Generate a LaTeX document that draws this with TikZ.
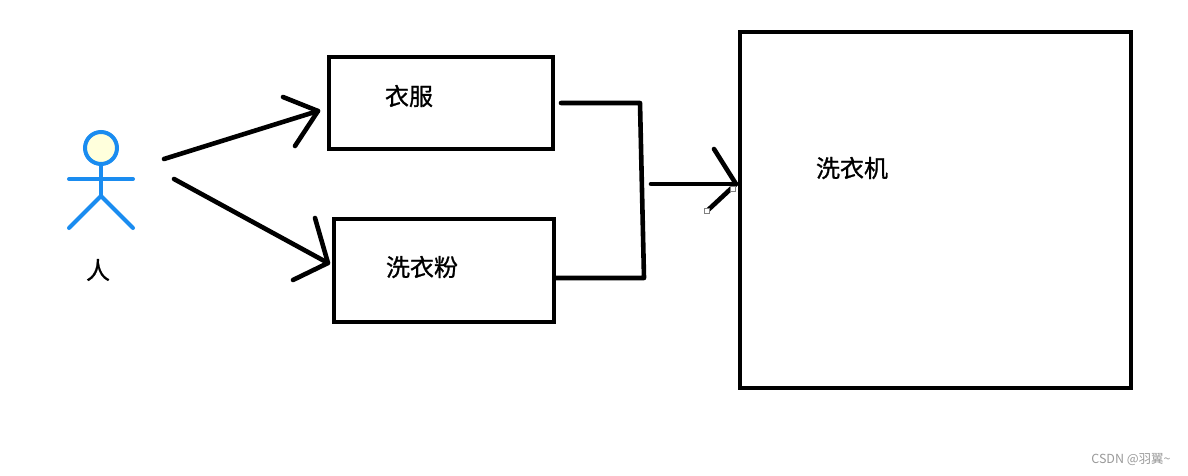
\documentclass[tikz,border=0pt]{standalone}
\usepackage{fontspec}
\setmainfont{Noto Sans CJK SC}
\newfontfamily\labelfont[FakeBold=1]{Noto Sans CJK SC}
\begin{document}
\begin{tikzpicture}[x=1pt,y=-1pt,
    every node/.style={inner sep=0pt,outer sep=0pt},
    boxnode/.style={draw,line width=4.4pt,rectangle},
    pen/.style={line width=4.6pt,line cap=round,line join=round},
    actorline/.style={draw=actorblue,line width=4pt,line cap=round},
    boxlabel/.style={font=\labelfont\fontsize{24}{24}\selectfont},
    grip/.style={draw=gray,fill=white,line width=1pt,minimum size=5pt}]
\definecolor{actorblue}{HTML}{1A8CF0}
\definecolor{actorface}{HTML}{FFFFDC}
\useasboundingbox (0,0) rectangle (1188,476);
    \node[boxnode,minimum width=224pt,minimum height=92pt] (clothes) at (441,103) {};
    \node[boxnode,minimum width=220pt,minimum height=103pt] (powder) at (444,270.5) {};
    \node[boxnode,minimum width=391pt,minimum height=356pt] (washer) at (935.5,210) {};
    \node[boxlabel] (clothestext) at (409,96) {衣服};
    \node[boxlabel] (powdertext) at (422,267) {洗衣粉};
    \node[boxlabel] (washertext) at (852,168) {洗衣机};
    \node[boxlabel] (persontext) at (98,270) {人};
    \node[text=gray!80,font=\fontsize{12.5}{13}\selectfont] (mark) at (1131,460) {CSDN @羽翼\textasciitilde};
    % person
    \node[circle,draw=actorblue,fill=actorface,line width=4pt,minimum size=32pt] (head) at (101,148) {};
    \coordinate (hip) at (101,196);
    \coordinate (armL) at (69,179);
    \coordinate (armR) at (133,179);
    \coordinate (footL) at (69,228);
    \coordinate (footR) at (133,228);
    \draw[actorline] (head) -- (hip);
    \draw[actorline] (armL) -- (armR);
    \draw[actorline] (footL) -- (hip) -- (footR);
    % arrows from the person
    \coordinate (startA) at (164,159);
    \coordinate (tipA) at (318,111);
    \coordinate (startB) at (174,179);
    \coordinate (tipB) at (328,263);
    \coordinate (barbA1) at (283,97);
    \coordinate (barbA2) at (295,146);
    \coordinate (barbB1) at (315,218);
    \coordinate (barbB2) at (293,280);
    \draw[pen] (startA) -- (tipA);
    \draw[pen] (barbA1) -- (tipA) -- (barbA2);
    \draw[pen] (startB) -- (tipB);
    \draw[pen] (barbB1) -- (tipB) -- (barbB2);
    % joint to the machine
    \coordinate (outA) at (561,103);
    \coordinate (cornerA) at (640,103);
    \coordinate (outB) at (556,278);
    \coordinate (cornerB) at (644,278);
    \coordinate (startC) at (651,184);
    \coordinate (tipC) at (736,184);
    \coordinate (barbC1) at (714,149);
    \coordinate (barbC2) at (707,211);
    \draw[pen] (outA) -- (cornerA) -- (cornerB) -- (outB);
    \draw[pen] (startC) -- (tipC);
    \draw[pen] (barbC1) -- (tipC) -- (barbC2);
    \node[grip] (gripA) at (barbC2) {};
    \node[grip] (gripB) at (733,189) {};
\end{tikzpicture}
\end{document}
